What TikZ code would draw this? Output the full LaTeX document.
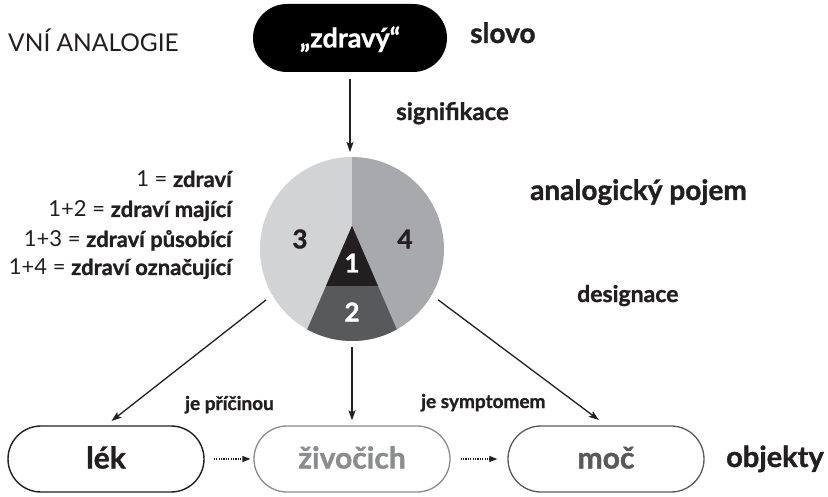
\documentclass[tikz,border=0pt]{standalone}
\usepackage{fontspec}
\setmainfont{Lato}[BoldFeatures={FakeBold=1.2}]
\usetikzlibrary{arrows.meta,shapes.misc,calc}
\definecolor{ink}{HTML}{231F20}
\definecolor{pieL}{HTML}{D1D3D4}
\definecolor{pieR}{HTML}{A7A9AC}
\definecolor{pieD}{HTML}{58595B}
\definecolor{zivgray}{HTML}{8A8C8E}
\newcommand\fsz[1]{\fontsize{#1}{#1}\selectfont}
\begin{document}
\begin{tikzpicture}[x=1pt,y=-1pt,
  pill/.style={rounded rectangle, minimum width=196pt, minimum height=66pt, inner sep=0pt,
    text height=19pt, text depth=0pt, font=\fsz{30}\bfseries, line width=1.4pt},
  lbl/.style={inner sep=0pt, anchor=base west, font=\bfseries, text=ink},
  legend/.style={inner sep=0pt, anchor=base east, font=\fsz{22}, text=ink},
  num/.style={inner sep=0pt, font=\fsz{26}\bfseries},
  arr/.style={line width=1.3pt, draw=ink, -{Stealth[length=10pt,width=7pt,inset=2pt]}},
  dotarr/.style={line width=1.2pt, draw=ink, dash pattern=on 1.2pt off 1.2pt, -{Triangle[length=8pt,width=6pt]}}]
\useasboundingbox (0,0) rectangle (828,497);
\fill[white] (0,0) rectangle (828,497);

% title
\node[inner sep=0pt, anchor=base west, font=\fsz{24.5}, text=ink] (title) at (8,52) {VNÍ ANALOGIE};

% word
\node[pill, fill=black, text=white, minimum width=194pt, minimum height=68pt, font=\fsz{27}\bfseries] (top) at (350,38) {„zdravý“};
\node[lbl, font=\fsz{28}\bfseries] (slovo) at (470,43) {slovo};
\node[lbl, font=\fsz{24}\bfseries] (sig) at (396,120) {signifikace};

% pie
\node[circle, minimum size=184pt, inner sep=0pt, outer sep=0pt] (pie) at (352,249) {};
\begin{scope}
  \clip (pie.center) circle[radius=92pt];
  \fill[pieL] (255,150) rectangle (352,350);
  \fill[pieR] (352,150) rectangle (450,350);
  \fill[pieD] (352,226) -- (287,376) -- (417,376) -- cycle;
  \fill[ink] (352,226) -- (326,286) -- (378,286) -- cycle;
\end{scope}
\node[num, text=ink] (n3) at (300,239) {3};
\node[num, text=ink] (n4) at (405,239) {4};
\node[num, text=white] (n1) at (352,263) {1};
\node[num, text=white] (n2) at (352,312) {2};

\node[lbl, font=\fsz{28}\bfseries] (pojem) at (530,200) {analogický pojem};
\node[lbl, font=\fsz{23}\bfseries] (des) at (577,302) {designace};

% legend
\node[legend] (l1) at (233,187) {1 = \textbf{zdraví}};
\node[legend] (l2) at (233,217) {1+2 = \textbf{zdraví mající}};
\node[legend] (l3) at (233,247) {1+3 = \textbf{zdraví působící}};
\node[legend] (l4) at (233,275) {1+4 = \textbf{zdraví označující}};

% objects
\node[pill, draw=ink, text=ink] (lek) at (106,459) {lék};
\node[pill, draw=zivgray, text=zivgray, line width=1.3pt] (ziv) at (352,459) {živočich};
\node[pill, draw=pieD, text=pieD, line width=1.3pt] (moc) at (606,459) {moč};
\node[lbl, font=\fsz{29}\bfseries] (obj) at (726,467) {objekty};

\node[lbl, font=\fsz{19}\bfseries] (pric) at (185,410) {je příčinou};
\node[lbl, font=\fsz{19}\bfseries] (sympt) at (421,408) {je symptomem};

% connectors
\draw[arr, shorten <=6pt, shorten >=5pt] (top.south) -- (top.south |- pie.north);
\draw[arr, shorten <=8pt, shorten >=7pt] (pie.210) -- (lek.north);
\draw[arr, shorten <=6pt, shorten >=5pt] (pie.south) -- (ziv.north);
\draw[arr, shorten <=8pt, shorten >=9pt] (pie.330) -- (moc.north);
\draw[dotarr, shorten <=9pt, shorten >=3pt] (lek.east) -- (ziv.west);
\draw[dotarr, shorten <=10pt, shorten >=10pt] (ziv.east) -- (moc.west);
\end{tikzpicture}
\end{document}
